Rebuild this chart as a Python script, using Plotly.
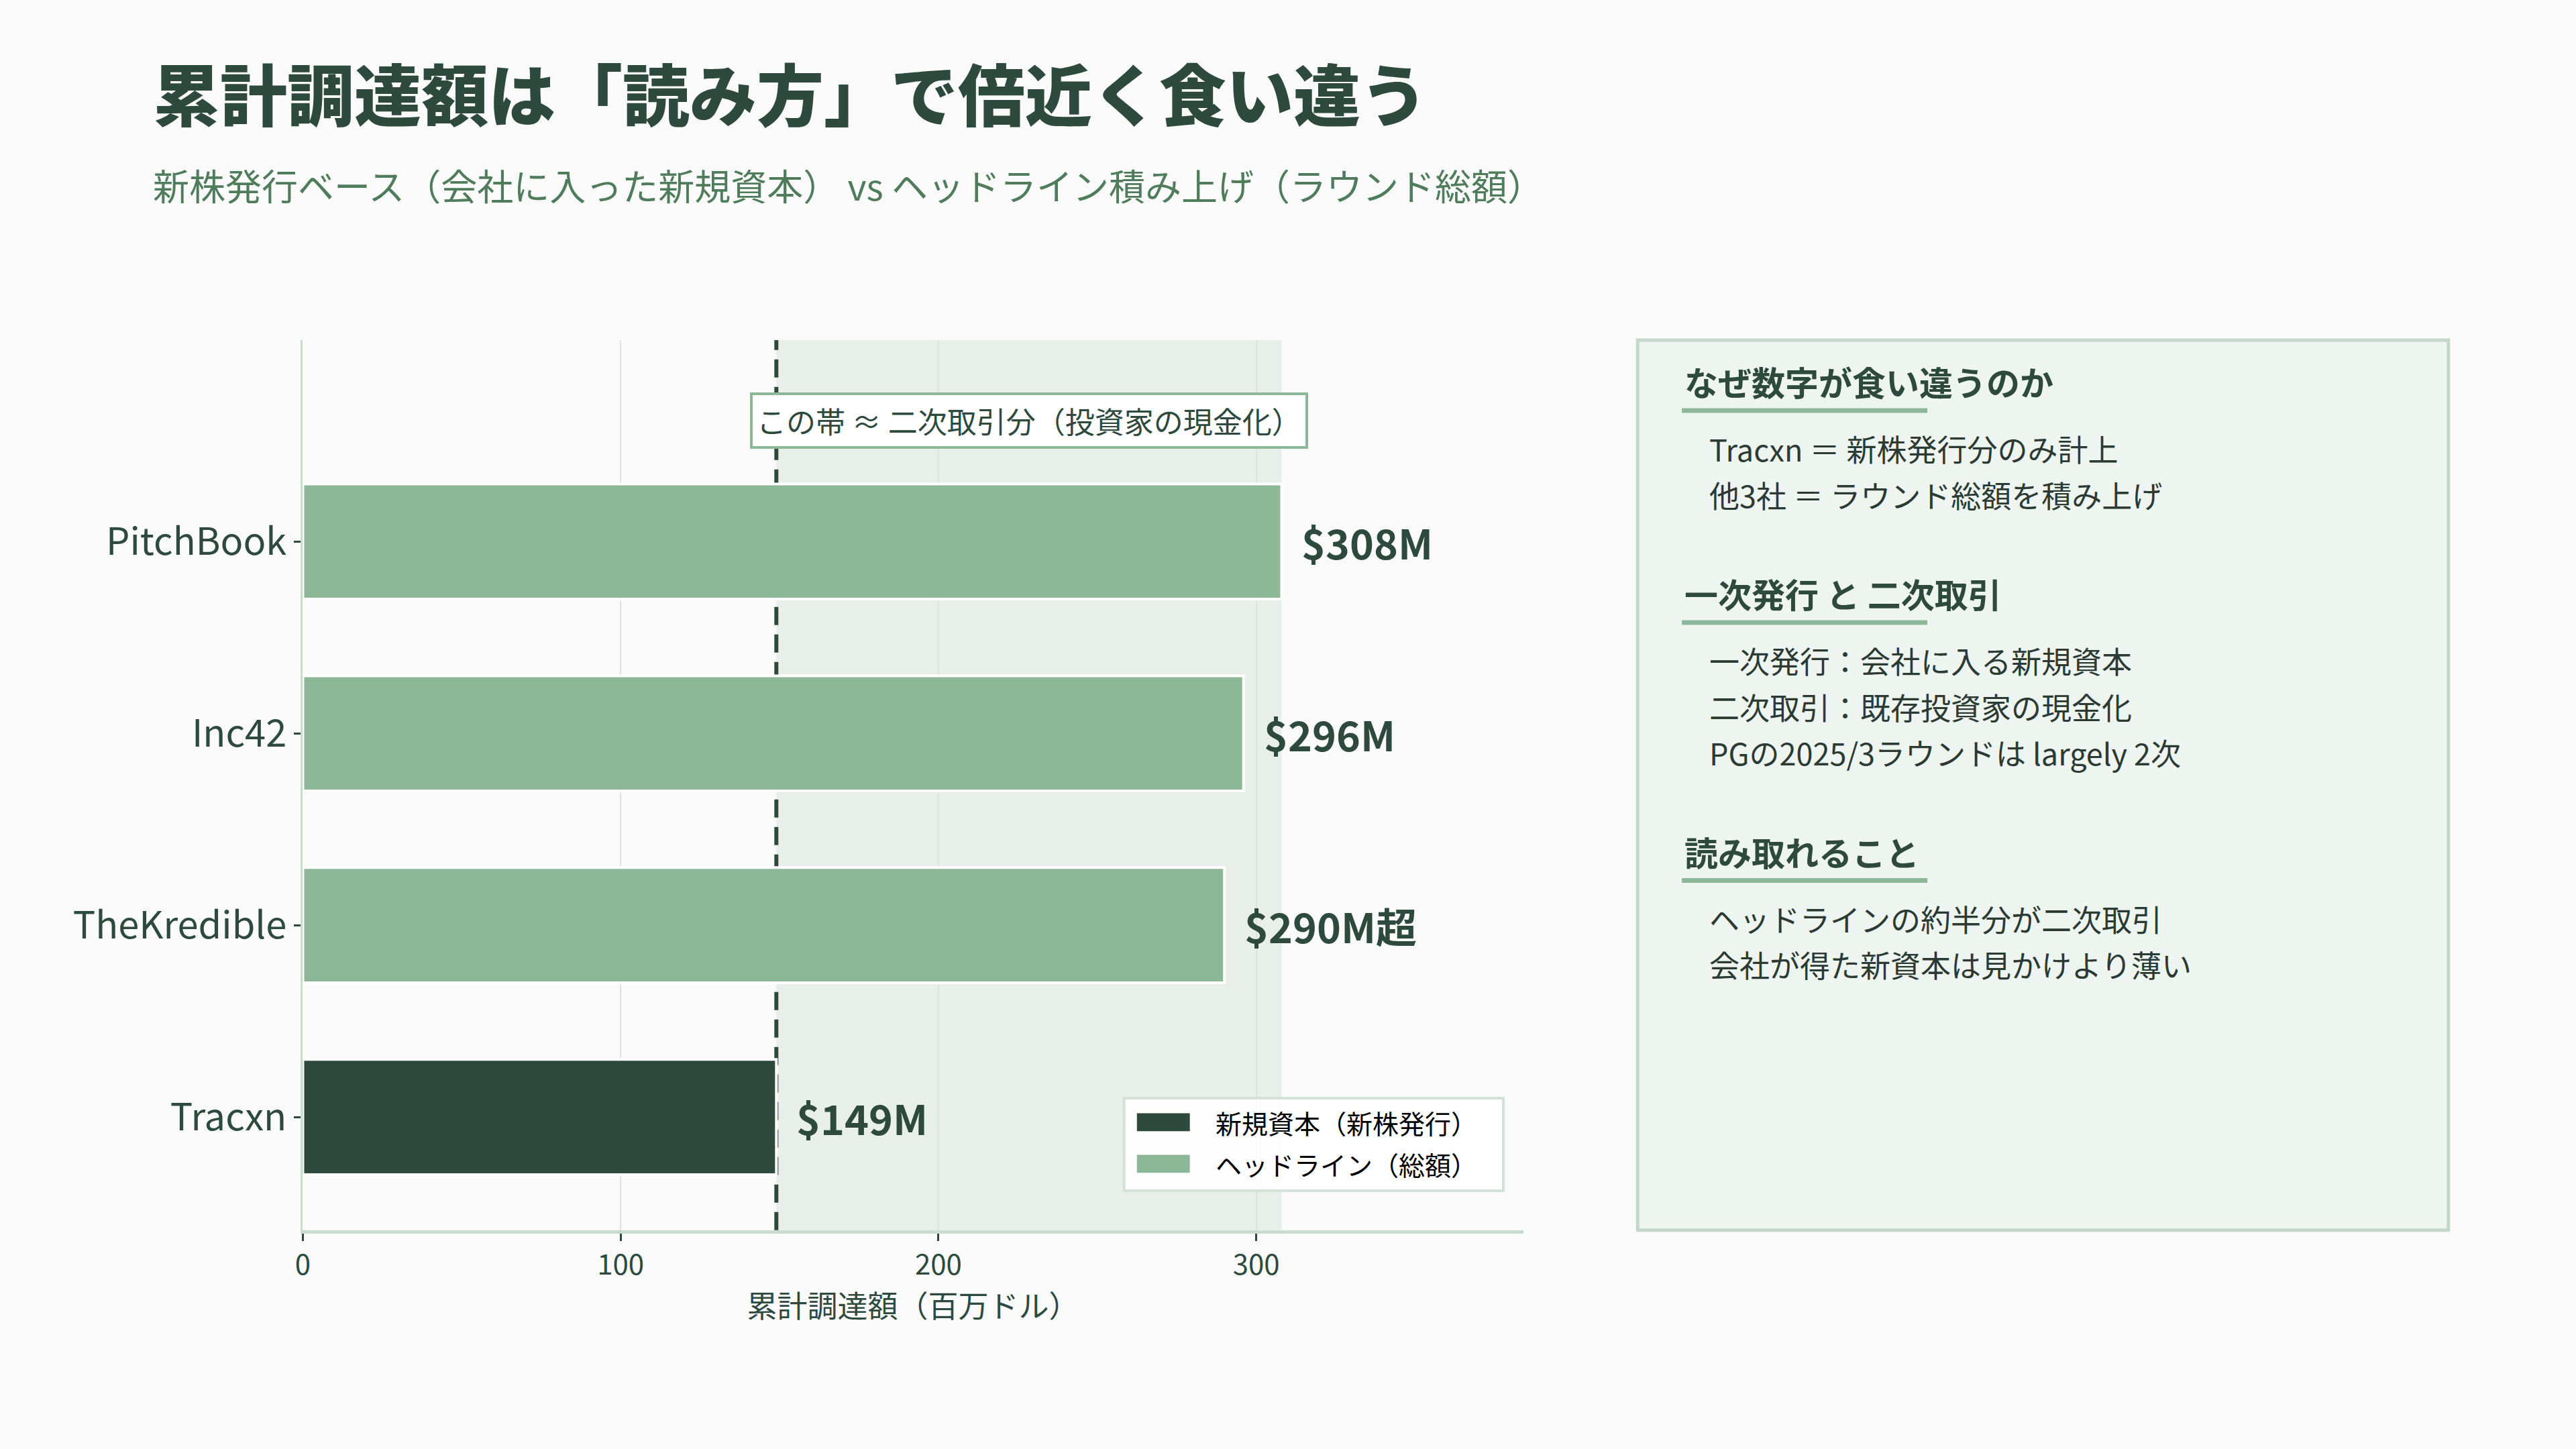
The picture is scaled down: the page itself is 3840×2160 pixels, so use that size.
import plotly.graph_objects as go

# data
companies = ["Tracxn", "TheKredible", "Inc42", "PitchBook"]
new_capital_names = ["Tracxn"]
new_capital = [149]
headline_names = ["TheKredible", "Inc42", "PitchBook"]
headline_values = [290, 296, 308]
label_names = ["PitchBook", "Inc42", "TheKredible", "Tracxn"]
label_values = [308, 296, 290, 149]
label_texts = ["$308M", "$296M", "$290M超", "$149M"]
band_low, band_high = 149, 308
x_ticks = [0, 100, 200, 300]
series_names = ["新規資本（新株発行）", "ヘッドライン（総額）"]

panel_sections = [
    ("なぜ数字が食い違うのか", ["Tracxn ＝ 新株発行分のみ計上", "他3社 ＝ ラウンド総額を積み上げ"]),
    ("一次発行 と 二次取引", ["一次発行：会社に入る新規資本", "二次取引：既存投資家の現金化",
                          "PGの2025/3ラウンドは largely 2次"]),
    ("読み取れること", ["ヘッドラインの約半分が二次取引", "会社が得た新資本は見かけより薄い"]),
]

DARK = "#2e4a3e"
LIGHT = "#8db897"
FONT = "Noto Sans CJK JP"

fig = go.Figure()

fig.add_trace(go.Bar(
    y=new_capital_names, x=new_capital, orientation="h", width=0.6,
    name=series_names[0], marker=dict(color=DARK, line=dict(color="white", width=4)),
))
fig.add_trace(go.Bar(
    y=headline_names, x=headline_values, orientation="h", width=0.6,
    name=series_names[1], marker=dict(color=LIGHT, line=dict(color="white", width=4)),
))

# secondary band + dashed line
fig.add_shape(type="rect", xref="x", yref="y domain", x0=band_low, x1=band_high, y0=0, y1=1,
              fillcolor="#e8efea", line_width=0, layer="below")
fig.add_shape(type="line", xref="x", yref="y domain", x0=band_low, x1=band_low, y0=0, y1=1,
              line=dict(color=DARK, width=6, dash="27px,14px"), layer="below")

fig.add_annotation(x=(band_low + band_high) / 2, y=3.63, xref="x", yref="y",
                   text="この帯 ≈ 二次取引分（投資家の現金化）", showarrow=False,
                   font=dict(family=FONT, size=44, color=DARK),
                   bgcolor="white", bordercolor=LIGHT, borderwidth=4, borderpad=6)

for name, val, txt in zip(label_names, label_values, label_texts):
    fig.add_annotation(x=val, y=name, xref="x", yref="y", text="<b>%s</b>" % txt,
                       showarrow=False, xanchor="left", xshift=28,
                       font=dict(family=FONT, size=61, color=DARK))

# title / subtitle
fig.add_annotation(x=0.056, y=0.937, xref="paper", yref="paper", xanchor="left", yanchor="middle",
                   text="累計調達額は「読み方」で倍近く食い違う", showarrow=False,
                   font=dict(family=FONT, size=100, color=DARK, weight=900))
fig.add_annotation(x=0.056, y=0.8725, xref="paper", yref="paper", xanchor="left", yanchor="middle",
                   text="新株発行ベース（会社に入った新規資本） vs ヘッドライン積み上げ（ラウンド総額）",
                   showarrow=False, font=dict(family=FONT, size=54, color="#4f7d5c"))

# legend (drawn by hand so the swatches are large enough at this size)
fig.add_shape(type="rect", xref="paper", yref="paper", x0=0.4346, x1=0.5823, y0=0.1782, y1=0.2421,
              fillcolor="rgba(255,255,255,0.85)", line=dict(color="#d3e2d6", width=4))
legend_rows = [(0.2255, DARK), (0.1968, LIGHT)]
for (ly, col), nm in zip(legend_rows, series_names):
    fig.add_shape(type="rect", xref="paper", yref="paper", x0=0.4396, x1=0.4602,
                  y0=ly - 0.0062, y1=ly + 0.0062, fillcolor=col, line_width=0)
    fig.add_annotation(x=0.4698, y=ly, xref="paper", yref="paper", xanchor="left", yanchor="middle",
                       text=nm, showarrow=False, font=dict(family=FONT, size=39, color="black"))

# right-hand panel
fig.add_shape(type="rect", xref="paper", yref="paper", x0=0.6346, x1=0.9503, y0=0.151, y1=0.7653,
              fillcolor="#eef4f0", line=dict(color="#c5d6ca", width=5), layer="below")

head_y = [0.737, 0.5907, 0.4127]
for (head, lines), hy in zip(panel_sections, head_y):
    fig.add_annotation(x=0.6524, y=hy, xref="paper", yref="paper", xanchor="left", yanchor="middle",
                       text="<b>%s</b>" % head, showarrow=False,
                       font=dict(family=FONT, size=50, color=DARK))
    fig.add_shape(type="line", xref="paper", yref="paper", x0=0.6518, x1=0.7474,
                  y0=hy - 0.0203, y1=hy - 0.0203, line=dict(color=LIGHT, width=7))
    for i, line in enumerate(lines):
        fig.add_annotation(x=0.662, y=hy - 0.0465 - i * 0.0318, xref="paper", yref="paper",
                           xanchor="left", yanchor="middle", text=line, showarrow=False,
                           font=dict(family=FONT, size=45, color="#2b3a33"))

fig.update_layout(
    width=3840, height=2160,
    margin=dict(l=0, r=0, t=0, b=0),
    paper_bgcolor="#fafafa", plot_bgcolor="#fafafa",
    barmode="overlay",
    font=dict(family=FONT, color=DARK),
    showlegend=False,
    xaxis=dict(domain=[0.1148, 0.590], range=[0, 384], tickvals=x_ticks,
               showgrid=True, gridcolor="#dbe5de", gridwidth=2, zeroline=False,
               showline=True, linecolor="#c9dccd", linewidth=5,
               ticks="outside", ticklen=11, tickwidth=3, tickcolor=DARK,
               tickfont=dict(family=FONT, size=42, color=DARK),
               title=dict(text="累計調達額（百万ドル）", font=dict(family=FONT, size=45, color=DARK), standoff=20)),
    yaxis=dict(domain=[0.151, 0.7653], range=[-0.59, 4.05], type="category",
               categoryorder="array", categoryarray=companies,
               showgrid=False, zeroline=False, showline=True, linecolor="#c9dccd", linewidth=3,
               ticks="outside", ticklen=10, tickwidth=3, tickcolor=DARK,
               tickfont=dict(family=FONT, size=56, color=DARK)),
)

# drop the default page margin so the figure fills the window exactly
fig.write_html("out.html", config={"displayModeBar": False},
               post_script="document.body.style.margin='0';document.body.style.background='#fafafa';")
